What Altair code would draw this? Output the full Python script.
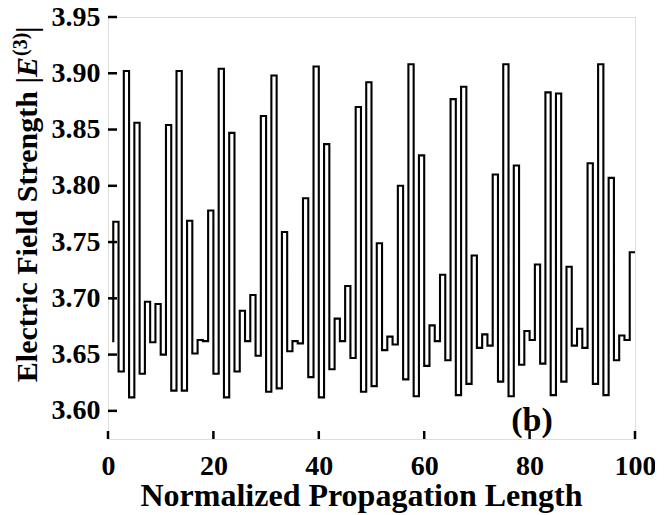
import altair as alt
import pandas as pd

# Step signal: value at x=1 is the start point, each following value is held on [k-1, k]
x_pos = list(range(1, 101))
field = [3.661, 3.768, 3.635, 3.902, 3.612, 3.856, 3.633, 3.697, 3.661, 3.695, 3.650,
         3.854, 3.618, 3.902, 3.618, 3.769, 3.651, 3.663, 3.662, 3.778, 3.633,
         3.904, 3.612, 3.847, 3.635, 3.689, 3.662, 3.703, 3.649, 3.862, 3.617,
         3.898, 3.620, 3.759, 3.653, 3.662, 3.660, 3.789, 3.630, 3.906, 3.612,
         3.837, 3.637, 3.682, 3.662, 3.711, 3.647, 3.870, 3.617, 3.892, 3.622,
         3.749, 3.654, 3.666, 3.659, 3.800, 3.628, 3.908, 3.613, 3.827, 3.640,
         3.676, 3.662, 3.721, 3.645, 3.877, 3.614, 3.888, 3.624, 3.738, 3.656,
         3.668, 3.658, 3.810, 3.626, 3.908, 3.613, 3.818, 3.641, 3.671, 3.663,
         3.730, 3.642, 3.883, 3.614, 3.882, 3.626, 3.728, 3.658, 3.673, 3.656,
         3.820, 3.624, 3.908, 3.614, 3.807, 3.645, 3.667, 3.663, 3.741]

x_ticks = [0, 20, 40, 60, 80, 100]
y_ticks = [3.60, 3.65, 3.70, 3.75, 3.80, 3.85, 3.90, 3.95]
x_title = "Normalized Propagation Length"
y_title_main = "Electric Field Strength |"
y_title_sym = "E"
y_title_sup = "(3)"
y_title_end = "|"
panel_label = "(b)"

FONT = "Liberation Serif"
W, H = 527, 422

df = pd.DataFrame({"x": x_pos, "E": field})

xs = alt.Scale(domain=[0, 100], nice=False, zero=False)
ys = alt.Scale(domain=[3.575, 3.95], nice=False, zero=False)

line = alt.Chart(df).mark_line(
    interpolate="step-before", color="black", strokeWidth=2.1
).encode(
    x=alt.X("x:Q", scale=xs, axis=alt.Axis(
        values=x_ticks, format="d", labelFont=FONT, labelFontWeight="bold",
        labelFontSize=28, labelColor="black", labelPadding=13, labelFlush=False,
        ticks=False, tickSize=0, domain=False, grid=False,
        title=x_title, titleFont=FONT, titleFontWeight="bold", titleFontSize=32,
        titleColor="black", titleX=253, titleY=41)),
    y=alt.Y("E:Q", scale=ys, axis=alt.Axis(
        values=y_ticks, format=".2f", labelFont=FONT, labelFontWeight="bold",
        labelFontSize=28, labelColor="black", labelPadding=8, labelFlush=False,
        ticks=False, tickSize=0, domain=False, grid=False, title=None)),
)

xt = alt.Chart(pd.DataFrame({"t": x_ticks})).mark_rule(color="black", strokeWidth=2.5).encode(
    x=alt.X("t:Q", scale=xs), y=alt.value(H), y2=alt.value(H - 8))
yt = alt.Chart(pd.DataFrame({"t": y_ticks})).mark_rule(color="black", strokeWidth=2.5).encode(
    y=alt.Y("t:Q", scale=ys), x=alt.value(0), x2=alt.value(9))

TX, TY = -80, 60
def ttext(s, size, style, align, dx, dy):
    return alt.Chart(pd.DataFrame({"s": [s]})).mark_text(
        font=FONT, fontSize=size, fontWeight="bold", fontStyle=style, angle=270,
        align=align, baseline="middle", dx=dx, dy=dy, color="black"
    ).encode(text="s:N", x=alt.value(TX), y=alt.value(TY))

t1 = ttext(y_title_main, 30, "normal", "right", 0, 0)
t2 = ttext(y_title_sym, 30, "italic", "left", 0, 0)
t3 = ttext(y_title_sup, 20, "normal", "left", 21, -7)
t4 = ttext(y_title_end, 30, "normal", "left", 44, 0)

lab = alt.Chart(pd.DataFrame({"s": [panel_label]})).mark_text(
    font=FONT, fontSize=34, fontWeight="bold", align="center", baseline="alphabetic", color="black"
).encode(text="s:N", x=alt.value(424), y=alt.value(414))

chart = alt.layer(line, xt, yt, t1, t2, t3, t4, lab).properties(
    width=W, height=H,
    autosize=alt.AutoSizeParams(type="none"),
    padding={"left": 100, "top": 9, "right": 20, "bottom": 74},
).configure_view(stroke="black", strokeWidth=2.5).configure(background="white")

chart.save("out.html", embed_options={"renderer": "svg", "actions": False})
